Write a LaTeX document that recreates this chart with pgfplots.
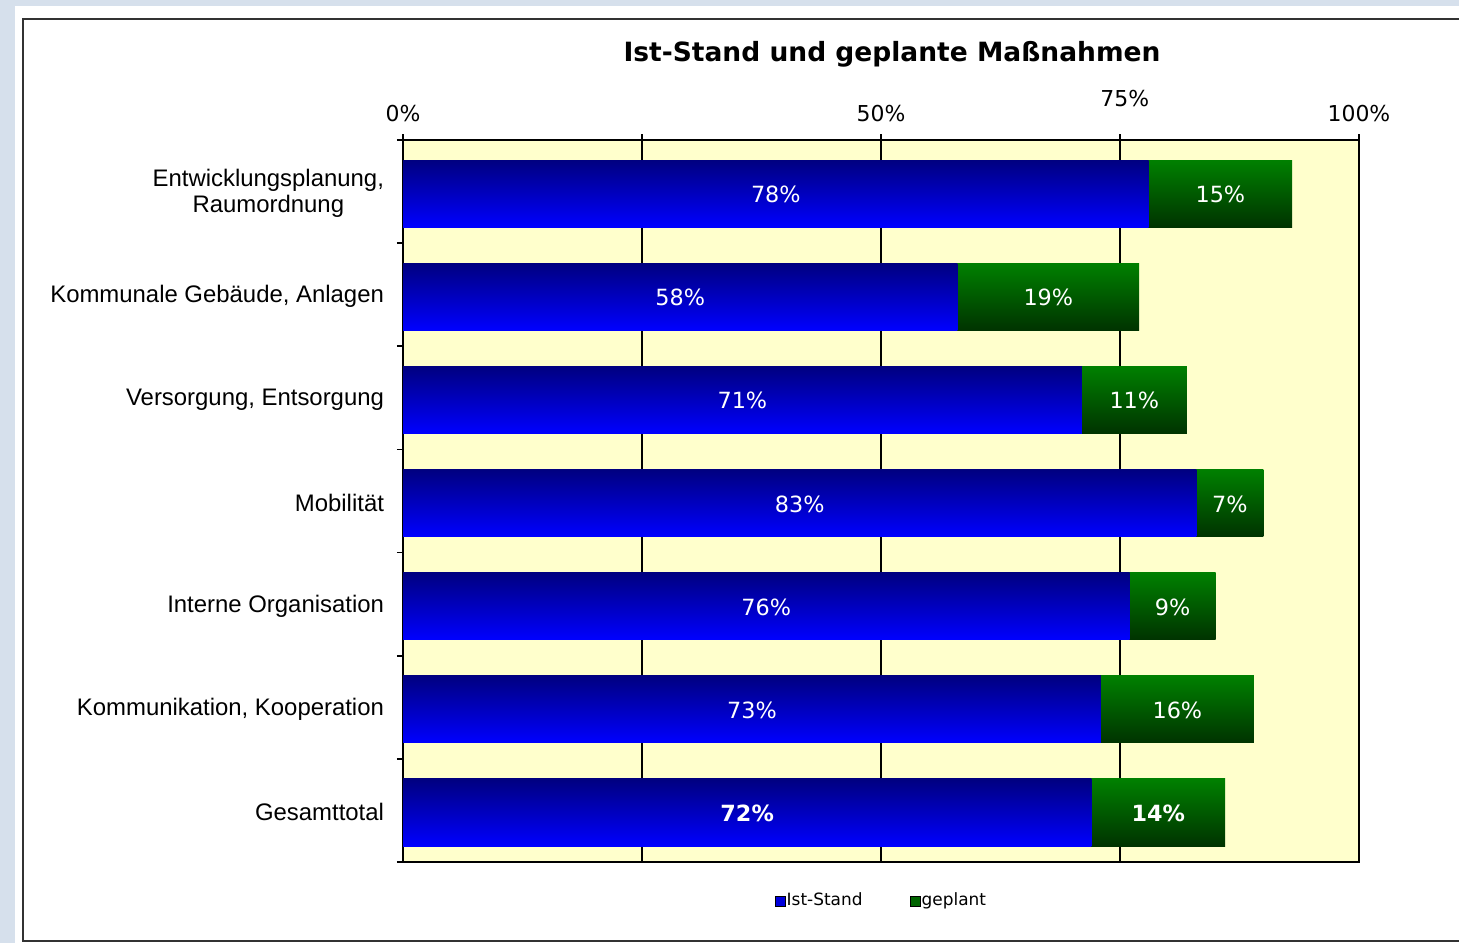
\documentclass[border=0pt]{standalone}
\usepackage{pgfplots}
\pgfplotsset{compat=1.18}
\usepackage{pgfplotstable}
\usepackage{fontspec}
\setmainfont{DejaVu Sans}
\newfontfamily\catfont{Liberation Sans}
\definecolor{outerbg}{RGB}{214,224,236}
\definecolor{plotbg}{RGB}{255,255,204}
\definecolor{bluetop}{RGB}{0,0,128}
\definecolor{bluebot}{RGB}{0,0,255}
\definecolor{greentop}{RGB}{0,128,0}
\definecolor{greenbot}{RGB}{0,51,0}
\definecolor{framecol}{RGB}{50,50,50}
\pgfplotsset{sqlegend/.style={legend image code/.code={\fill[##1] (0bp,-2.6bp) rectangle (5bp,2.4bp);}}}

\pgfplotstableread{
y ist geplant
0 78 15
1 58 19
2 71 11
3 83 7
4 76 9
5 73 16
6 72 14
}\data

\begin{document}
\begin{tikzpicture}
\clip (0,0) rectangle (729.5bp,-471.5bp);
\fill[outerbg] (0,0) rectangle (729.5bp,-471.5bp);
\fill[white] (7.5bp,-3bp) rectangle (740bp,-480bp);
\draw[framecol, line width=1bp] (11.5bp,-9.5bp) rectangle (740bp,-470.5bp);
\node[font=\fontsize{13.3}{15}\selectfont\bfseries] at (446bp,-27bp) {Ist-Stand und geplante Maßnahmen};
\begin{axis}[
  at={(201.5bp,-70bp)}, anchor=north west,
  scale only axis, width=478bp, height=361bp,
  xmin=0, xmax=100, ymin=-0.5, ymax=6.5, y dir=reverse,
  clip=false,
  /pgf/number format/assume math mode=true,
  axis background/.style={fill=plotbg},
  axis line style={black, line width=0.8bp},
  xtick={0,25,50,75,100},
  xticklabels={0\%,,50\%,,100\%},
  xtick pos=upper, xticklabel pos=upper,
  xticklabel style={font=\fontsize{11}{13}\selectfont, yshift=2.5bp},
  tick align=outside,
  major tick length=3bp,
  tick style={black, line width=0.8bp},
  xmajorgrids, grid style={black, line width=0.8bp},
  ytick={-0.5,0.5,...,6.5},
  yticklabels={},
  ytick pos=left,
  extra y ticks={0,1,2,3,4,5,6},
  extra y tick labels={{Entwicklungsplanung,\\Raumordnung},{Kommunale Gebäude, Anlagen},{Versorgung, Entsorgung},{Mobilität},{Interne Organisation},{Kommunikation, Kooperation},{Gesamttotal}},
  extra y tick style={tick style={draw=none}},
  yticklabel style={font=\catfont\fontsize{12}{13}\selectfont, align=center, xshift=-3bp, yshift=-1bp},
  legend style={draw=none, fill=none, at={(0.5,-0.054)}, anchor=center,
    font=\fontsize{8.5}{10}\selectfont, legend columns=2,
    nodes={inner sep=0.6bp},
    /tikz/every even column/.append style={column sep=23bp}},
]
\addlegendimage{sqlegend, fill={rgb,255:red,0;green,0;blue,220}}
\addlegendentry{Ist-Stand}
\addlegendimage{sqlegend, fill={rgb,255:red,0;green,100;blue,0}}
\addlegendentry{geplant}
\pgfplotsinvokeforeach{0,1,2,3,4,5,6}{
\addplot[xbar, bar width=0.65, bar shift=0.02, draw=none, top color=greentop, bottom color=greenbot, forget plot, restrict y to domain=#1:#1]
  table[x expr=\thisrow{ist}+\thisrow{geplant}, y=y] {\data};
\addplot[xbar, bar width=0.65, bar shift=0.02, draw=none, top color=bluetop, bottom color=bluebot, forget plot, restrict y to domain=#1:#1]
  table[x=ist, y=y] {\data};
}
% labels
\addplot[only marks, mark=none, forget plot, point meta=explicit,
  nodes near coords={\pgfmathprintnumber{\pgfplotspointmeta}\%},
  every node near coord/.append style={anchor=center, yshift=-1.5bp, text=white, font=\fontsize{11.2}{13}\selectfont},
  restrict y to domain=0:5]
  table[x expr=\thisrow{ist}/2, y=y, meta=ist] {\data};
\addplot[only marks, mark=none, forget plot, point meta=explicit,
  nodes near coords={\pgfmathprintnumber{\pgfplotspointmeta}\%},
  every node near coord/.append style={anchor=center, yshift=-1.5bp, text=white, font=\fontsize{11.2}{13}\selectfont},
  restrict y to domain=0:5]
  table[x expr=\thisrow{ist}+\thisrow{geplant}/2, y=y, meta=geplant] {\data};
\addplot[only marks, mark=none, forget plot, point meta=explicit,
  nodes near coords={\pgfmathprintnumber{\pgfplotspointmeta}\%},
  every node near coord/.append style={anchor=center, yshift=-1.5bp, text=white, font=\fontsize{11.2}{13}\selectfont\bfseries},
  restrict y to domain=5.5:6.5]
  table[x expr=\thisrow{ist}/2, y=y, meta=ist] {\data};
\addplot[only marks, mark=none, forget plot, point meta=explicit,
  nodes near coords={\pgfmathprintnumber{\pgfplotspointmeta}\%},
  every node near coord/.append style={anchor=center, yshift=-1.5bp, text=white, font=\fontsize{11.2}{13}\selectfont\bfseries},
  restrict y to domain=5.5:6.5]
  table[x expr=\thisrow{ist}+\thisrow{geplant}/2, y=y, meta=geplant] {\data};
\node[font=\fontsize{11}{13}\selectfont] at (axis cs:75.5,-0.5) [yshift=20.5bp] {75\%};
\end{axis}
\end{tikzpicture}
\end{document}
